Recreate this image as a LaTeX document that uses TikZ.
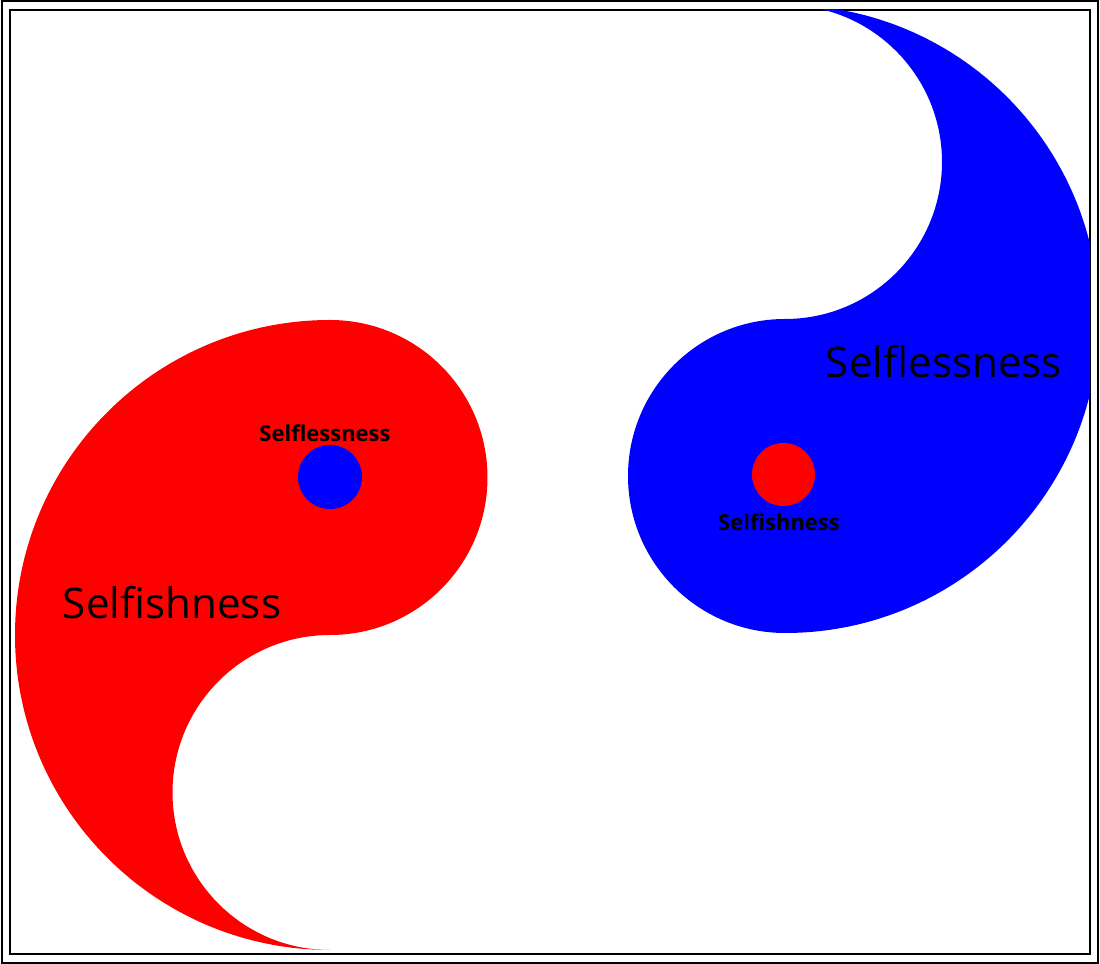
\documentclass[tikz,border=0pt]{standalone}
\usepackage{fontspec}
\setmainfont{Open Sans}
\definecolor{rot}{HTML}{FF0000}
\definecolor{blau}{HTML}{0000FF}
\tikzset{
  rahmen/.style={black,line width=0.6pt},
  gross/.style={font=\fontsize{24}{28}\selectfont},
  klein/.style={font=\bfseries\fontsize{12.5}{15}\selectfont},
}

\begin{document}
\begin{tikzpicture}[x=0.02cm,y=0.02cm]
  \useasboundingbox (0,0) rectangle (1100,964);
  \draw[rahmen] (2,1) rectangle (1098,963);
  \draw[rahmen] (10,10) rectangle (1090,954);
  \begin{scope}
    \clip (10,10) rectangle (1090,954);
    \fill[rot] (330,644) arc[start angle=90,end angle=270,radius=315]
      arc[start angle=270,end angle=90,radius=157.5]
      arc[start angle=-90,end angle=90,radius=157.5] -- cycle;
    \fill[blau] (785,959) arc[start angle=90,end angle=-90,radius=314]
      arc[start angle=270,end angle=90,radius=157]
      arc[start angle=-90,end angle=90,radius=157] -- cycle;
  \end{scope}
  \fill[blau] (330,487) circle[radius=32];
  \fill[rot] (783.5,489.5) circle[radius=31.5];
  \node[gross] (selfishBig) at (172,361) {Selfishness};
  \node[gross] (selflessBig) at (944,602) {Selflessness};
  \node[klein] (selflessDot) at (325,531) {Selflessness};
  \node[klein] (selfishDot) at (779,442) {Selfishness};
\end{tikzpicture}
\end{document}
